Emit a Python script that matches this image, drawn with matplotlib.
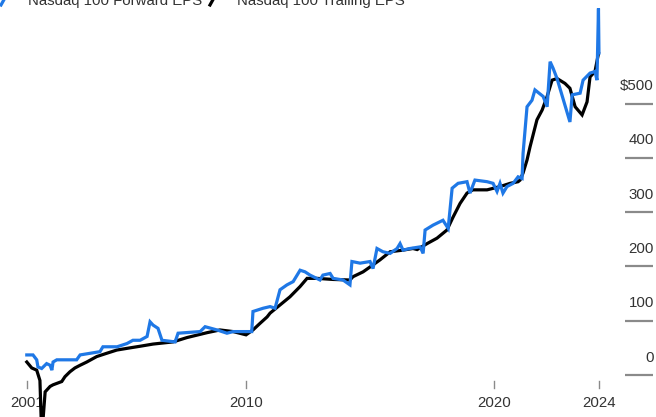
import matplotlib
matplotlib.use("Agg")
import matplotlib.pyplot as plt
from matplotlib.lines import Line2D
import matplotlib.transforms as mtransforms

# Nasdaq 100 earnings per share, dollars (decimal years)
trailing_t = [2001.16, 2001.36, 2001.56, 2001.69, 2001.75, 2001.81, 2001.90, 2002.10,
              2002.22, 2002.57, 2002.70, 2002.90, 2003.10, 2003.31, 2003.58, 2003.98,
              2004.38, 2004.79, 2005.32, 2005.73, 2006.25, 2007.06, 2007.62, 2008.43,
              2008.95, 2009.48, 2010.00, 2010.28, 2010.56, 2010.85, 2010.97, 2011.37,
              2011.77, 2012.18, 2012.46, 2012.86, 2013.51, 2014.19, 2014.31, 2014.72,
              2015.00, 2015.40, 2015.81, 2016.33, 2016.73, 2016.90, 2017.30, 2017.70,
              2018.10, 2018.35, 2018.63, 2018.91, 2019.15, 2019.72, 2020.24, 2020.65,
              2020.97, 2021.05, 2021.17, 2021.33, 2021.45, 2021.73, 2021.94, 2022.14,
              2022.34, 2022.54, 2022.86, 2023.06, 2023.27, 2023.55, 2023.75, 2023.87,
              2024.07, 2024.21]
trailing_eps = [24, 13, 9, -10, -95, -85, -31, -21,
                -18, -12, -3, 6, 13, 18, 24, 34,
                40, 46, 50, 53, 57, 61, 69, 78,
                83, 80, 74, 83, 95, 107, 114, 129,
                144, 163, 178, 178, 176, 175, 181, 190,
                199, 212, 227, 230, 233, 231, 242, 252,
                267, 291, 316, 335, 341, 341, 347, 353,
                356, 359, 372, 396, 420, 470, 488, 513,
                543, 546, 537, 528, 494, 479, 503, 549,
                559, 592]

forward_t = [2001.16, 2001.41, 2001.56, 2001.61, 2001.76, 2001.96, 2002.10, 2002.17,
             2002.22, 2002.37, 2003.17, 2003.31, 2004.11, 2004.23, 2004.80, 2005.20,
             2005.44, 2005.73, 2006.01, 2006.13, 2006.25, 2006.45, 2006.61, 2007.14,
             2007.26, 2008.15, 2008.35, 2008.83, 2009.23, 2009.48, 2010.23, 2010.28,
             2010.69, 2010.97, 2011.17, 2011.37, 2011.65, 2011.90, 2012.18, 2012.38,
             2012.58, 2012.98, 2013.10, 2013.39, 2013.51, 2013.91, 2014.19, 2014.27,
             2014.60, 2015.00, 2015.12, 2015.28, 2015.52, 2015.81, 2016.09, 2016.21,
             2016.33, 2016.61, 2017.02, 2017.14, 2017.22, 2017.54, 2017.94, 2018.15,
             2018.31, 2018.55, 2018.91, 2019.03, 2019.23, 2019.72, 2019.96, 2020.12,
             2020.24, 2020.36, 2020.52, 2020.77, 2020.97, 2021.13, 2021.17, 2021.33,
             2021.53, 2021.65, 2021.98, 2022.14, 2022.26, 2022.38, 2022.54, 2023.06,
             2023.15, 2023.47, 2023.59, 2023.87, 2024.07, 2024.15, 2024.21, 2024.23]
forward_eps = [37, 37, 28, 15, 12, 21, 18, 9,
               24, 28, 28, 37, 43, 52, 52, 58,
               64, 64, 71, 98, 92, 86, 64, 61,
               77, 80, 89, 83, 77, 80, 80, 117,
               123, 126, 123, 157, 166, 172, 193, 190,
               184, 175, 184, 187, 178, 175, 166, 209,
               206, 209, 196, 233, 227, 224, 233, 242,
               230, 233, 236, 224, 267, 276, 285, 270,
               344, 353, 356, 335, 359, 356, 353, 338,
               353, 335, 347, 353, 365, 362, 408, 494,
               506, 525, 513, 494, 577, 565, 546, 466,
               516, 519, 543, 556, 559, 543, 675, 593]

y_ticks = [0, 100, 200, 300, 400, 500]
y_tick_labels = ["0", "100", "200", "300", "400", "$500"]
x_ticks = [2001.16, 2010.0, 2020.0, 2024.22]
x_tick_labels = ["2001", "2010", "2020", "2024"]
series_names = ["Nasdaq 100 Forward EPS", "Nasdaq 100 Trailing EPS"]

BLUE = "#1f78e6"
TEXT = "#333333"
RULE = "#8a8a8a"
FONT = ["Liberation Sans", "DejaVu Sans"]

W, H = 656, 417
fig = plt.figure(figsize=(W / 100, H / 100), dpi=100)
ax = fig.add_axes([0, 0, 1, 1])
ax.set_axis_off()
ax.set_xlim(2000.08, 2026.53)
ax.set_ylim(-77.3, 690.6)

ax.plot(trailing_t, trailing_eps, color="black", lw=2.3, solid_joinstyle="miter", zorder=3)
ax.plot(forward_t, forward_eps, color=BLUE, lw=2.3, solid_joinstyle="miter", zorder=4)

# right-hand value scale: short rules with labels above them
blend = mtransforms.blended_transform_factory(ax.transAxes, ax.transData)
for v, lab in zip(y_ticks, y_tick_labels):
    ax.plot([625 / W, 653 / W], [v, v], transform=blend, color=RULE, lw=1.6,
            solid_capstyle="butt", zorder=2)
    ax.annotate(lab, xy=(654 / W, v), xycoords=blend, xytext=(0, 12.5),
                textcoords="offset points", ha="right", va="center",
                fontsize=10.8, color=TEXT, family=FONT, zorder=1)

# year ticks below the zero line
for t, lab in zip(x_ticks, x_tick_labels):
    ax.annotate("", xy=(t, 0), xycoords="data")
    ax.plot([t, t], [-11, -23], color=RULE, lw=1.0, zorder=1)
    ax.annotate(lab, xy=(t, 0), xycoords="data", xytext=(0, -20.5),
                textcoords="offset points", ha="center", va="center",
                fontsize=10.8, color=TEXT, family=FONT, zorder=1)

# legend row along the top edge
def px(x, y):
    return x / W, 1 - y / H

for (x0, name, col) in [(0, series_names[0], BLUE), (209, series_names[1], "black")]:
    (a0, b0), (a1, b1) = px(x0 + 1, 5), px(x0 + 6, -4)
    fig.add_artist(Line2D([a0, a1], [b0, b1], color=col, lw=2.3, transform=fig.transFigure))
    tx, ty = px(x0 + 28, 4.5)
    fig.text(tx, ty, name, ha="left", va="baseline", fontsize=10.8,
             color=TEXT, family=FONT)

fig.savefig("out.png", dpi=100)
